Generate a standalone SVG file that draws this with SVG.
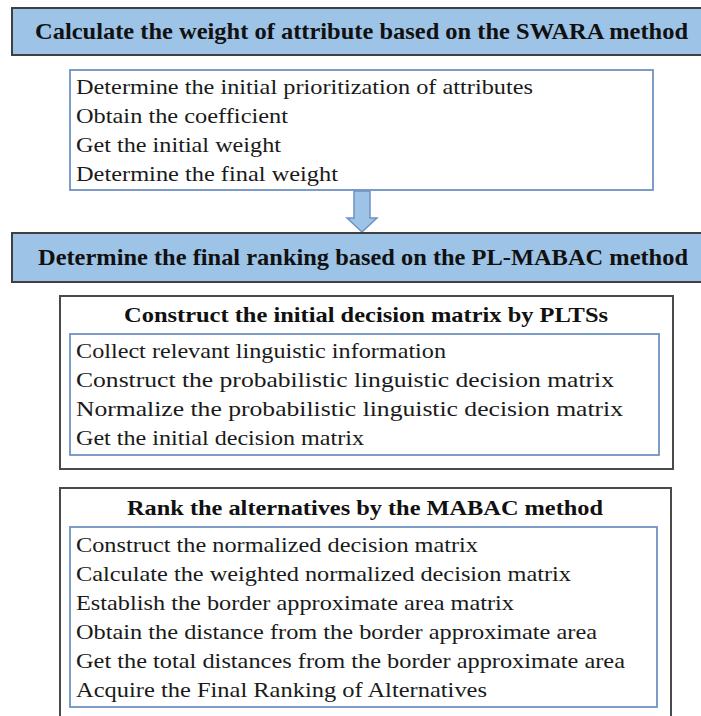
<svg xmlns="http://www.w3.org/2000/svg" width="701" height="716" viewBox="0 0 701 716">
<style>
.hdr{fill:#9DC3E6;stroke:#3F3F3F;stroke-width:2}
.outer{fill:#FFFFFF;stroke:#4A4A4A;stroke-width:2}
.inner{fill:#FFFFFF;stroke:#6F93C3;stroke-width:1.8}
text{font-family:"Liberation Serif","Times New Roman",Tinos,"DejaVu Serif","Noto Serif",serif}
.ht{font-weight:bold;font-size:23px;fill:#111;text-anchor:middle}
.tt{font-weight:bold;font-size:22px;fill:#111;text-anchor:middle}
.bt{font-size:21px;fill:#1A1A1A}
.arrow{fill:#9DC3E6;stroke:#6F93C3;stroke-width:1.5}
</style>
<rect width="701" height="716" fill="#FFFFFF"/>
<g id="swara">
<rect class="hdr" x="12" y="8" width="700" height="47"/>
<text class="ht" x="361.5" y="39" textLength="653" lengthAdjust="spacingAndGlyphs">Calculate the weight of attribute based on the SWARA method</text>
</g>
<g id="swara-steps">
<rect class="inner" x="70" y="70" width="583" height="120"/>
<text class="bt" x="76" y="94" textLength="457" lengthAdjust="spacingAndGlyphs">Determine the initial prioritization of attributes</text>
<text class="bt" x="76" y="123" textLength="212" lengthAdjust="spacingAndGlyphs">Obtain the coefficient</text>
<text class="bt" x="76" y="152" textLength="205" lengthAdjust="spacingAndGlyphs">Get the initial weight</text>
<text class="bt" x="76" y="181" textLength="262" lengthAdjust="spacingAndGlyphs">Determine the final weight</text>
</g>
<g id="connectors">
<polygon class="arrow" points="354,191 370,191 370,218 377,218 362,232 347,218 354,218"/>
</g>
<g id="mabac">
<rect class="hdr" x="12" y="233" width="700" height="49"/>
<text class="ht" x="363" y="265" textLength="650" lengthAdjust="spacingAndGlyphs">Determine the final ranking based on the PL-MABAC method</text>
</g>
<g id="pltss">
<rect class="outer" x="60" y="296" width="613" height="173"/>
<text class="tt" x="366" y="322" textLength="484" lengthAdjust="spacingAndGlyphs">Construct the initial decision matrix by PLTSs</text>
<rect class="inner" x="70" y="334" width="589" height="121"/>
<text class="bt" x="76" y="358" textLength="370" lengthAdjust="spacingAndGlyphs">Collect relevant linguistic information</text>
<text class="bt" x="76" y="387" textLength="538" lengthAdjust="spacingAndGlyphs">Construct the probabilistic linguistic decision matrix</text>
<text class="bt" x="76" y="416" textLength="547" lengthAdjust="spacingAndGlyphs">Normalize the probabilistic linguistic decision matrix</text>
<text class="bt" x="76" y="445" textLength="288" lengthAdjust="spacingAndGlyphs">Get the initial decision matrix</text>
</g>
<g id="rank">
<rect class="outer" x="60" y="488" width="611" height="240"/>
<text class="tt" x="365" y="515" textLength="476" lengthAdjust="spacingAndGlyphs">Rank the alternatives by the MABAC method</text>
<rect class="inner" x="70" y="527" width="587" height="180"/>
<text class="bt" x="76" y="552" textLength="402" lengthAdjust="spacingAndGlyphs">Construct the normalized decision matrix</text>
<text class="bt" x="76" y="581" textLength="495" lengthAdjust="spacingAndGlyphs">Calculate the weighted normalized decision matrix</text>
<text class="bt" x="76" y="610" textLength="438" lengthAdjust="spacingAndGlyphs">Establish the border approximate area matrix</text>
<text class="bt" x="76" y="639" textLength="521" lengthAdjust="spacingAndGlyphs">Obtain the distance from the border approximate area</text>
<text class="bt" x="76" y="668" textLength="549" lengthAdjust="spacingAndGlyphs">Get the total distances from the border approximate area</text>
<text class="bt" x="76" y="697" textLength="411" lengthAdjust="spacingAndGlyphs">Acquire the Final Ranking of Alternatives</text>
</g>
</svg>
